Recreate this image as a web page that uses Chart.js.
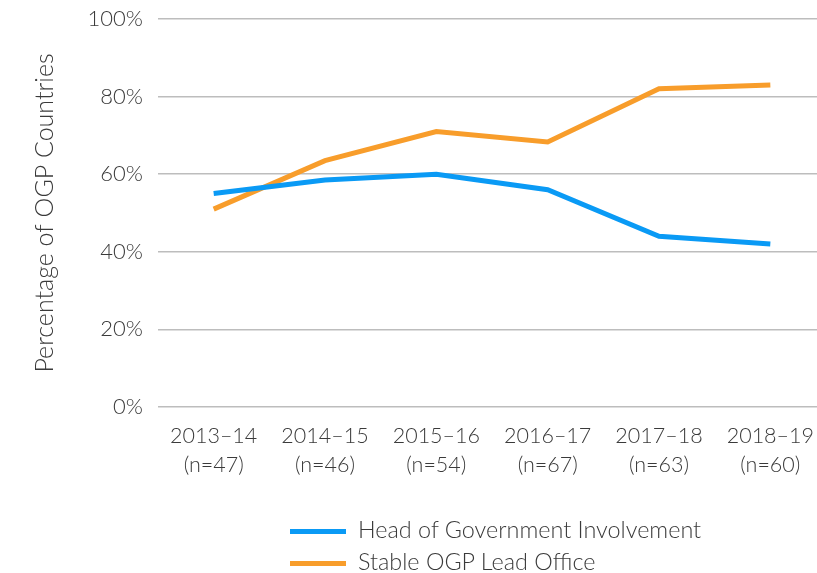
<!DOCTYPE html>
<html>
<head>
<meta charset="utf-8">
<script src="https://cdn.jsdelivr.net/npm/chart.js@4"></script>
<style>
  html, body { margin: 0; padding: 0; background: #fff; overflow: hidden; width: 817px; height: 573px; }
  #wrap { position: absolute; left: 0; top: 0; width: 826px; height: 573px; }
  .leg { position: absolute; left: 290px; font-family: Lato, "Open Sans", sans-serif; font-weight: 300; font-size: 23.4px; color: #3a3a3a; white-space: nowrap; }
  .leg span.sw { position: absolute; left: 0; width: 56px; height: 5px; }
  .leg span.tx { position: absolute; left: 68px; top: -14px; }
</style>
</head>
<body>
<div id="wrap"><canvas id="c" width="826" height="573"></canvas></div>
<div class="leg" style="top:529px"><span class="sw" style="background:#0a9af5"></span><span class="tx">Head of Government Involvement</span></div>
<div class="leg" style="top:561px"><span class="sw" style="background:#f89d2b"></span><span class="tx">Stable OGP Lead Office</span></div>
<script>
const categories = [["2013–14","(n=47)"],["2014–15","(n=46)"],["2015–16","(n=54)"],["2016–17","(n=67)"],["2017–18","(n=63)"],["2018–19","(n=60)"]];
const headOfGovernment = [55, 58.5, 60, 56, 44, 42];
const stableLeadOffice = [51, 63.5, 71, 68.3, 82, 83];
const seriesNames = ["Head of Government Involvement", "Stable OGP Lead Office"];
const yTicks = [0, 20, 40, 60, 80, 100];

const FONT = 'Lato, "Open Sans", sans-serif';
Chart.defaults.font.family = FONT;
Chart.defaults.font.weight = 300;
Chart.defaults.color = '#3a3a3a';

new Chart(document.getElementById('c'), {
  type: 'line',
  data: {
    labels: categories,
    datasets: [
      { label: seriesNames[0], data: headOfGovernment, borderColor: '#0a9af5', backgroundColor: '#0a9af5', borderWidth: 5, pointRadius: 0, tension: 0, borderCapStyle: 'butt' },
      { label: seriesNames[1], data: stableLeadOffice, borderColor: '#f89d2b', backgroundColor: '#f89d2b', borderWidth: 5, pointRadius: 0, tension: 0, borderCapStyle: 'butt' }
    ]
  },
  options: {
    responsive: false,
    animation: false,
    layout: { padding: { top: 19, left: 0, right: 0, bottom: 0 } },
    plugins: { legend: { display: false }, tooltip: { enabled: false } },
    scales: {
      x: {
        offset: true,
        grid: { display: false, drawTicks: false },
        border: { display: false },
        ticks: { font: { size: 21.5, weight: 300, lineHeight: 1.35 }, color: '#3a3a3a', padding: 15, maxRotation: 0, autoSkip: false },
        afterFit: s => { s.height = 166; s.paddingLeft = 0; s.paddingRight = 0; }
      },
      y: {
        min: 0, max: 100,
        afterBuildTicks: s => { s.ticks = yTicks.map(v => ({ value: v })); },
        grid: { color: '#bdbdbd', lineWidth: 1.5, drawTicks: false },
        border: { display: false },
        ticks: { font: { size: 22, weight: 300 }, color: '#3a3a3a', padding: 15, callback: v => v + '%' },
        title: { display: true, text: 'Percentage of OGP Countries', font: { size: 25, weight: 300 }, color: '#3a3a3a', padding: { top: 30, bottom: 0 } },
        afterFit: s => { s.width = 158; s.paddingTop = 0; s.paddingBottom = 0; }
      }
    }
  }
});
</script>
</body>
</html>
